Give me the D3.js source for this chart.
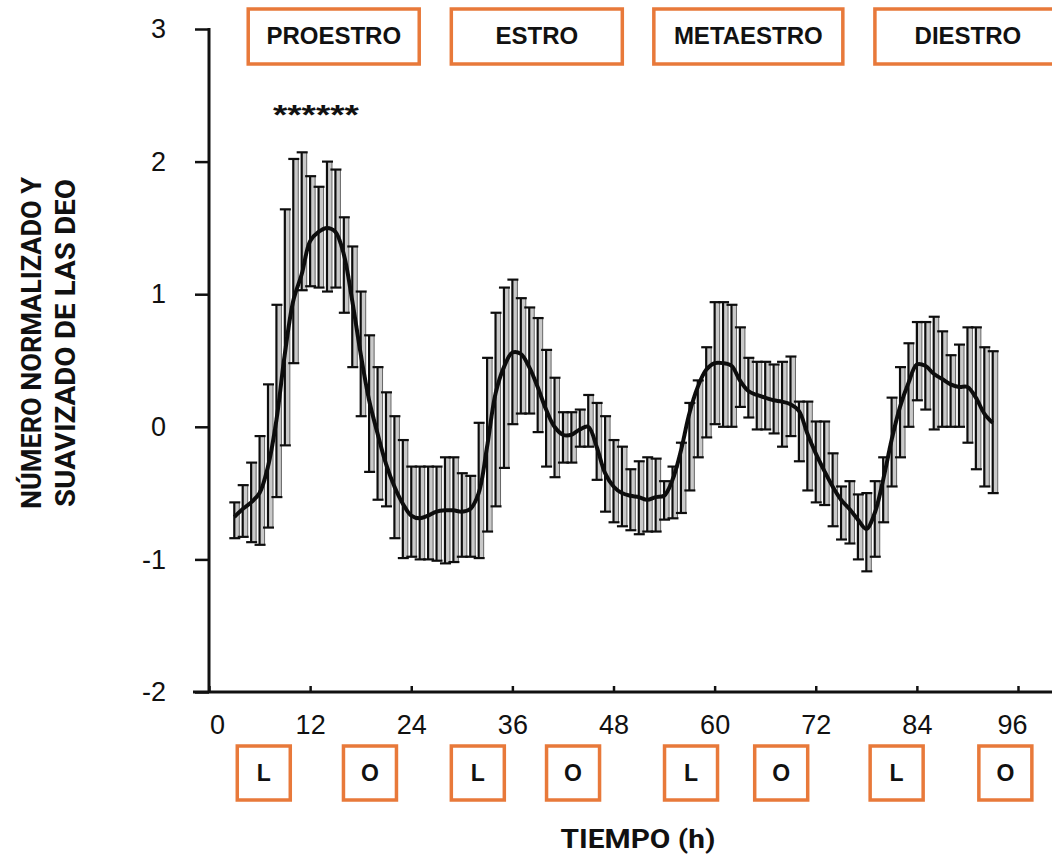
<!DOCTYPE html>
<html>
<head>
<meta charset="utf-8">
<script src="https://cdn.jsdelivr.net/npm/d3@7"></script>
<style>
  html, body { margin: 0; padding: 0; background: #ffffff; }
  svg { display: block; }
</style>
</head>
<body>
<svg id="chart" width="1052" height="857"></svg>
<script>
// Hourly samples (h) across the four cycle stages
const hours = [3,4,5,6,7,8,9,10,11,12,13,14,15,16,17,18,19,20,21,22,23,
  24,25,26,27,28,29,30,31,32,33,34,35,36,37,38,39,40,41,42,43,44,45,46,47,48,
  49,50,51,52,53,54,55,56,57,58,59,60,61,62,63,64,65,66,67,68,69,70,71,72,
  73,74,75,76,77,78,79,80,81,82,83,84,85,86,87,88,89,90,91,92,93];

// Smoothed, normalised event count
const smoothed = [-0.68,-0.62,-0.57,-0.5,-0.3,0.05,0.55,0.95,1.15,1.4,1.47,1.5,1.47,1.3,0.95,0.55,0.2,-0.05,-0.28,-0.45,-0.58,
  -0.67,-0.69,-0.67,-0.64,-0.63,-0.63,-0.64,-0.62,-0.5,-0.15,0.25,0.45,0.56,0.55,0.45,0.3,0.13,0.0,-0.06,-0.06,-0.02,0.0,-0.15,-0.35,-0.45,
  -0.5,-0.52,-0.53,-0.55,-0.53,-0.52,-0.4,-0.18,0.1,0.3,0.43,0.48,0.48,0.46,0.35,0.27,0.24,0.22,0.2,0.19,0.17,0.12,-0.05,-0.2,
  -0.33,-0.45,-0.55,-0.62,-0.7,-0.77,-0.65,-0.4,-0.1,0.15,0.33,0.47,0.46,0.4,0.36,0.32,0.3,0.3,0.22,0.1,0.03];

// Upper end of each error bar
const upper = [-0.57,-0.44,-0.27,-0.07,0.32,0.92,1.64,2.02,2.07,1.89,1.81,2.0,1.94,1.58,1.36,1.02,0.69,0.45,0.26,0.08,-0.1,
  -0.3,-0.3,-0.3,-0.3,-0.23,-0.23,-0.35,-0.37,0.03,0.52,0.86,1.05,1.11,0.97,0.9,0.82,0.58,0.37,0.11,0.11,0.13,0.24,0.18,0.08,-0.1,
  -0.15,-0.32,-0.26,-0.23,-0.24,-0.41,-0.3,-0.12,0.18,0.35,0.6,0.94,0.94,0.92,0.75,0.52,0.49,0.49,0.47,0.49,0.53,0.19,0.19,0.04,
  0.04,-0.2,-0.45,-0.41,-0.51,-0.5,-0.41,-0.23,0.22,0.45,0.63,0.79,0.79,0.83,0.72,0.54,0.62,0.75,0.75,0.6,0.57];

// Lower end of each error bar
const lower = [-0.84,-0.83,-0.87,-0.89,-0.76,-0.53,-0.14,0.48,1.03,1.06,1.05,1.02,1.05,0.86,0.45,0.08,-0.34,-0.55,-0.6,-0.84,-0.99,
  -0.98,-1.0,-1.0,-1.01,-1.03,-1.02,-0.98,-0.98,-0.99,-0.79,-0.6,-0.31,0.02,0.1,0.1,-0.04,-0.3,-0.38,-0.27,-0.27,-0.15,-0.15,-0.4,-0.64,-0.72,
  -0.75,-0.78,-0.81,-0.79,-0.79,-0.7,-0.69,-0.65,-0.48,-0.23,-0.08,0.02,0.0,0.0,0.15,0.07,-0.02,-0.02,-0.05,-0.15,-0.07,-0.26,-0.48,-0.57,
  -0.59,-0.75,-0.85,-0.88,-1.0,-1.09,-0.98,-0.72,-0.45,-0.23,0.0,0.2,0.13,-0.02,0.0,0.0,0.0,-0.12,-0.32,-0.45,-0.5];

// Axis ticks
const xTicks = [0,12,24,36,48,60,72,84,96];
const yTicks = [-2,-1,0,1,2,3];

// Cycle stages (label, centre in hours)
const stageNames = ["PROESTRO","ESTRO","METAESTRO","DIESTRO"];
const stageCenters = [14.8, 38.9, 64.0, 89.7];

// Light (L) / dark (O) phases (label, centre in hours)
const phaseNames = ["L","O","L","O","L","O","L","O"];
const phaseCenters = [6.5, 19.1, 31.9, 43.2, 57.2, 67.9, 81.6, 94.5];

const significance = "******";
const significanceHour = 12.1;

const orange = "#e8793a";

const svg = d3.select("#chart");
const width = 1052, height = 857;

const x = d3.scaleLinear().domain([0, 96]).range([209, 1018]);
const y = d3.scaleLinear().domain([-2, 3]).range([692, 29]);

const rows = hours.map((h, i) => ({ h, m: smoothed[i], hi: upper[i], lo: lower[i] }));

// soft scan-like edge on the plotted marks
const defs = svg.append("defs");
defs.append("filter").attr("id", "soft")
  .append("feGaussianBlur").attr("stdDeviation", 0.45);

// ---- axes ----
const axisFont = "'Liberation Sans', Arial, sans-serif";

const yAxis = svg.append("g")
  .attr("transform", `translate(${x(0)},0)`)
  .call(d3.axisLeft(y).tickValues(yTicks).tickSize(14).tickSizeOuter(0).tickPadding(29)
    .tickFormat(d => String(d)));
yAxis.select(".domain").remove();
yAxis.selectAll(".tick line").attr("stroke", "#111").attr("stroke-width", 2.5);
yAxis.selectAll(".tick text")
  .attr("font-family", axisFont).attr("font-size", 27).attr("fill", "#111");

const xAxis = svg.append("g")
  .attr("transform", `translate(0,${y(-2)})`)
  .call(d3.axisBottom(x).tickValues(xTicks).tickSize(-6).tickSizeOuter(0).tickPadding(23)
    .tickFormat(d => String(d)));
xAxis.select(".domain").remove();
xAxis.selectAll(".tick line").attr("stroke", "#111").attr("stroke-width", 2.5);
xAxis.selectAll(".tick text")
  .attr("font-family", axisFont).attr("font-size", 27).attr("fill", "#111")
  .attr("dx", d => d === 0 ? 8 : (d === 96 ? -6 : 0));

// axis lines
svg.append("line")
  .attr("x1", x(0)).attr("x2", x(0))
  .attr("y1", y(3) - 1).attr("y2", y(-2))
  .attr("stroke", "#111").attr("stroke-width", 3);
svg.append("line")
  .attr("x1", x(0) - 16).attr("x2", width)
  .attr("y1", y(-2)).attr("y2", y(-2))
  .attr("stroke", "#111").attr("stroke-width", 3);

// ---- error bars and smoothed curve ----
const plot = svg.append("g").attr("filter", "url(#soft)");

const bars = plot.append("g").selectAll("g").data(rows).join("g");

bars.append("rect")
  .attr("x", d => x(d.h))
  .attr("y", d => y(d.hi))
  .attr("width", 5)
  .attr("height", d => y(d.lo) - y(d.hi))
  .attr("fill", "#c9c9c9");
bars.append("line")
  .attr("x1", d => x(d.h) + 5).attr("x2", d => x(d.h) + 5)
  .attr("y1", d => y(d.hi)).attr("y2", d => y(d.lo))
  .attr("stroke", "#666").attr("stroke-width", 1);
bars.append("line")
  .attr("x1", d => x(d.h)).attr("x2", d => x(d.h))
  .attr("y1", d => y(d.hi)).attr("y2", d => y(d.lo))
  .attr("stroke", "#111").attr("stroke-width", 2.2);
bars.append("line")
  .attr("x1", d => x(d.h) - 5).attr("x2", d => x(d.h) + 6)
  .attr("y1", d => y(d.hi)).attr("y2", d => y(d.hi))
  .attr("stroke", "#111").attr("stroke-width", 2.2);
bars.append("line")
  .attr("x1", d => x(d.h) - 5).attr("x2", d => x(d.h) + 6)
  .attr("y1", d => y(d.lo)).attr("y2", d => y(d.lo))
  .attr("stroke", "#111").attr("stroke-width", 2.2);

plot.append("path")
  .datum(rows)
  .attr("fill", "none")
  .attr("stroke", "#111")
  .attr("stroke-width", 4)
  .attr("stroke-linejoin", "round")
  .attr("d", d3.line().x(d => x(d.h)).y(d => y(d.m)).curve(d3.curveCatmullRom));

// ---- stage boxes ----
const boldFont = "'Liberation Sans', Arial, sans-serif";
const stageW = [171, 171, 189, 180];
const stages = svg.append("g").selectAll("g")
  .data(stageNames.map((s, i) => ({ s, c: stageCenters[i], w: stageW[i] })))
  .join("g");
stages.append("rect")
  .attr("x", d => x(d.c) - d.w / 2).attr("y", 9)
  .attr("width", d => d.w).attr("height", 55)
  .attr("fill", "#fff").attr("stroke", orange).attr("stroke-width", 3.5);
stages.append("text")
  .attr("x", d => x(d.c) + (d.s === "DIESTRO" ? 3 : 0)).attr("y", 44)
  .attr("text-anchor", "middle")
  .attr("font-family", boldFont).attr("font-weight", "bold").attr("font-size", 24)
  .attr("fill", "#111")
  .text(d => d.s);

svg.append("text")
  .attr("x", x(significanceHour) + 5).attr("y", 124)
  .attr("text-anchor", "middle")
  .attr("font-family", boldFont).attr("font-weight", "bold").attr("font-size", 28)
  .attr("textLength", 86).attr("lengthAdjust", "spacingAndGlyphs")
  .attr("fill", "#111")
  .text(significance);

// ---- light / dark boxes ----
const phases = svg.append("g").selectAll("g")
  .data(phaseNames.map((p, i) => ({ p, c: phaseCenters[i] })))
  .join("g");
phases.append("rect")
  .attr("x", d => x(d.c) - 26.5).attr("y", 746)
  .attr("width", 53).attr("height", 54)
  .attr("fill", "#fff").attr("stroke", orange).attr("stroke-width", 3.5);
phases.append("text")
  .attr("x", d => x(d.c)).attr("y", 781)
  .attr("text-anchor", "middle")
  .attr("font-family", boldFont).attr("font-weight", "bold").attr("font-size", 23)
  .attr("fill", "#111")
  .text(d => d.p);

// ---- axis titles ----
const titleFont = "Roboto, 'Liberation Sans', sans-serif";
svg.append("text")
  .attr("x", 638).attr("y", 848)
  .attr("text-anchor", "middle")
  .attr("font-family", titleFont).attr("font-weight", "bold").attr("font-size", 26)
  .attr("textLength", 155).attr("lengthAdjust", "spacingAndGlyphs")
  .attr("fill", "#111")
  .text("TIEMPO (h)");

const yTitle = ["NÚMERO NORMALIZADO Y", "SUAVIZADO DE LAS DEO"];
svg.append("g").selectAll("text").data(yTitle).join("text")
  .attr("transform", (d, i) => `translate(${[41, 75][i]},343) rotate(-90)`)
  .attr("text-anchor", "middle")
  .attr("font-family", titleFont).attr("font-weight", "bold").attr("font-size", 27)
  .attr("textLength", (d, i) => [332, 328][i]).attr("lengthAdjust", "spacingAndGlyphs")
  .attr("fill", "#111")
  .text(d => d);
</script>
</body>
</html>
